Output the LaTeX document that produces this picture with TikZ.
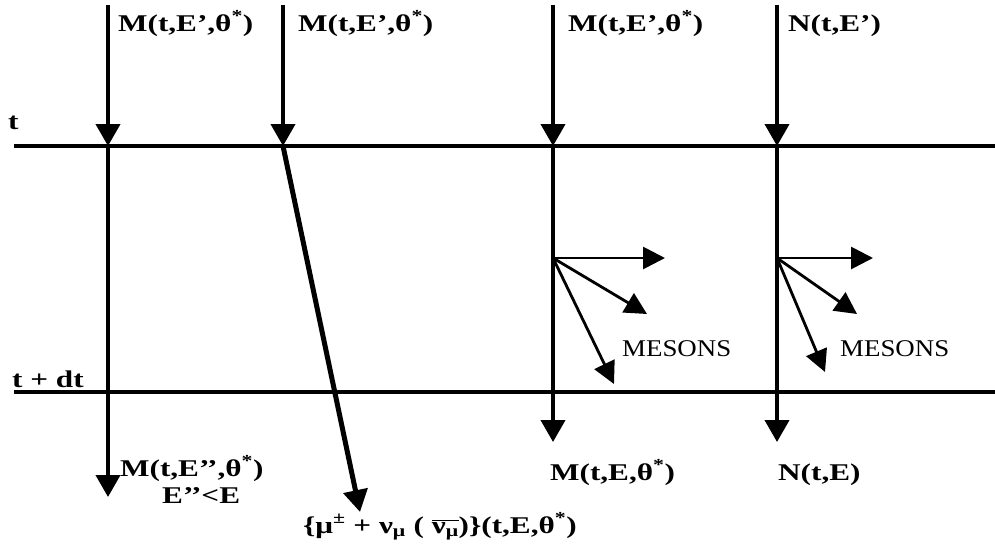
\documentclass[tikz,border=0pt]{standalone}
\usepackage{fontspec}
\usetikzlibrary{arrows.meta}
\newfontfamily\labfont[FakeStretch=1.3]{Liberation Serif}
\newfontfamily\mesfont[FakeStretch=1.12]{Liberation Serif}
\tikzset{
  lab/.style={inner sep=0pt, anchor=base west, font=\labfont\bfseries\fontsize{24}{28}\selectfont},
  meslab/.style={inner sep=0pt, anchor=base west, font=\mesfont\fontsize{24}{28}\selectfont},
  timeline/.style={line width=4pt},
  arr/.style={line width=4pt, -{Triangle[length=22pt,width=24pt]}},
  slarr/.style={line width=5pt, -{Triangle[length=22pt,width=24pt]}},
  marr/.style={line width=2.8pt, -{Triangle[length=22pt,width=22pt]}},
}
\begin{document}
\begin{tikzpicture}[x=1pt,y=-1pt]
\useasboundingbox (0,0) rectangle (995,552);
% time lines
\coordinate (tL) at (14,146);  \coordinate (tR) at (995,146);
\coordinate (dL) at (14,392);  \coordinate (dR) at (995,392);
\draw[timeline] (tL) -- (tR);
\draw[timeline] (dL) -- (dR);
\node[lab] (tlab) at (8,129) {t};
\node[lab] (dtlab) at (12,387) {t + dt};
% column 1
\coordinate (a1s) at (108,5); \coordinate (a1t) at (108,146); \coordinate (a1e) at (108,497);
\draw[arr] (a1s) -- (a1t);
\draw[arr] (a1t) -- (a1e);
\node[lab] (l1) at (118,31) {M(t,E’,θ\textsuperscript{*})};
\node[lab] (l1b) at (120,476) {M(t,E’’,θ\textsuperscript{*})};
\node[lab] (l1c) at (162,503) {E’’<E};
% column 2
\coordinate (a2s) at (283,5); \coordinate (a2t) at (283,146); \coordinate (a2e) at (360,512);
\draw[arr] (a2s) -- (a2t);
\draw[slarr] (a2t) -- (a2e);
\node[lab] (l2) at (298,31) {M(t,E’,θ\textsuperscript{*})};
\node[lab] (l2b) at (303,533) {\{μ\textsuperscript{±} + ν\textsubscript{μ} ( $\overline{\mbox{ν\textsubscript{μ}}}$)\}(t,E,θ\textsuperscript{*})};
% column 3
\coordinate (a3s) at (553,5); \coordinate (a3t) at (553,146); \coordinate (a3e) at (553,442);
\draw[arr] (a3s) -- (a3t);
\draw[arr] (a3t) -- (a3e);
\node[lab] (l3) at (568,31) {M(t,E’,θ\textsuperscript{*})};
\node[lab] (l3b) at (550,480) {M(t,E,θ\textsuperscript{*})};
\coordinate (m3) at (553,258);
\coordinate (m3a) at (665,258); \coordinate (m3b) at (647,314); \coordinate (m3c) at (614,384);
\draw[marr] (m3) -- (m3a);
\draw[marr] (m3) -- (m3b);
\draw[marr] (m3) -- (m3c);
\node[meslab] (mes3) at (622,356) {MESONS};
% column 4
\coordinate (a4s) at (777,5); \coordinate (a4t) at (777,146); \coordinate (a4e) at (777,442);
\draw[arr] (a4s) -- (a4t);
\draw[arr] (a4t) -- (a4e);
\node[lab] (l4) at (788,31) {N(t,E’)};
\node[lab] (l4b) at (778,480) {N(t,E)};
\coordinate (m4) at (777,258);
\coordinate (m4a) at (873,258); \coordinate (m4b) at (857,314); \coordinate (m4c) at (825,372);
\draw[marr] (m4) -- (m4a);
\draw[marr] (m4) -- (m4b);
\draw[marr] (m4) -- (m4c);
\node[meslab] (mes4) at (840,356) {MESONS};
\end{tikzpicture}
\end{document}
